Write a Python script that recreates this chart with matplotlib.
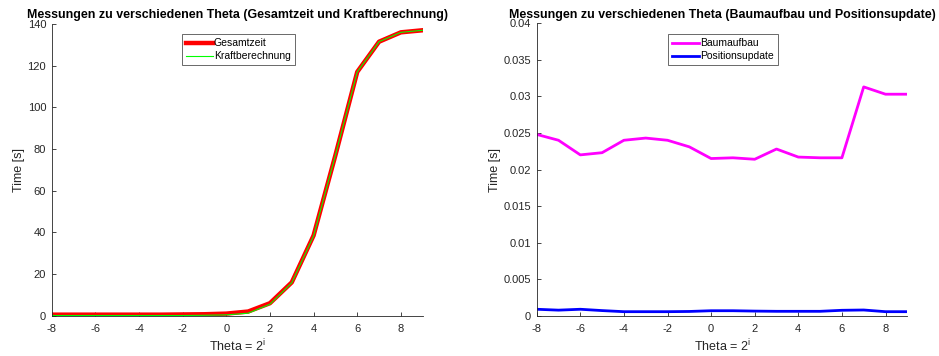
import matplotlib
matplotlib.use("Agg")
import matplotlib.pyplot as plt
import numpy as np

plt.rcParams['font.family'] = ['Liberation Sans', 'DejaVu Sans']
plt.rcParams['axes.unicode_minus'] = False

# Daten
theta_i = np.arange(-8, 10)
gesamtzeit = [0.5, 0.5, 0.5, 0.5, 0.5, 0.5, 0.6, 0.7, 1.0, 2.0, 6.0, 16.0, 38.5, 77.0, 117.0, 131.5, 136.0, 137.0]
kraftberechnung = [0.1, 0.1, 0.1, 0.1, 0.1, 0.1, 0.1, 0.2, 0.4, 1.2, 5.5, 15.8, 38.3, 77.0, 117.0, 131.5, 136.0, 137.0]
baumaufbau = [0.0248, 0.0240, 0.0220, 0.0223, 0.0240, 0.0243, 0.0240, 0.0231, 0.0215,
              0.0216, 0.0214, 0.0228, 0.0217, 0.0216, 0.0216, 0.0313, 0.0303, 0.0303]
positionsupdate = [0.00088, 0.00076, 0.00088, 0.00070, 0.00055, 0.00055, 0.00055, 0.00058, 0.00068,
                   0.00068, 0.00063, 0.00060, 0.00060, 0.00060, 0.00074, 0.00078, 0.00055, 0.00055]

ax_col = (0.15, 0.15, 0.15)

fig = plt.figure(figsize=(9.39, 3.56), dpi=100)
ax1 = fig.add_axes([51.7/939, 1-315.7/356, 371/939, 291.7/356])
ax2 = fig.add_axes([536.7/939, 1-315.7/356, 370.6/939, 292.4/356])

ax1.plot(theta_i, gesamtzeit, color=(1, 0, 0), lw=3.2, label="Gesamtzeit")
ax1.plot(theta_i, kraftberechnung, color=(0, 1, 0), lw=0.8, label="Kraftberechnung")
ax1.set_xlim(-8, 9)
ax1.set_ylim(0, 140)
ax1.set_yticks(np.arange(0, 141, 20))
ax1.set_title("Messungen zu verschiedenen Theta (Gesamtzeit und Kraftberechnung)",
              fontsize=8.9, fontweight='bold', pad=4)

ax2.plot(theta_i, baumaufbau, color=(1, 0, 1), lw=2, label="Baumaufbau")
ax2.plot(theta_i, positionsupdate, color=(0, 0, 1), lw=2, label="Positionsupdate")
ax2.set_xlim(-8, 9)
ax2.set_ylim(0, 0.04)
ax2.set_yticks(np.arange(0, 0.0401, 0.005))
ax2.set_yticklabels(["0", "0.005", "0.01", "0.015", "0.02", "0.025", "0.03", "0.035", "0.04"])
ax2.set_title("Messungen zu verschiedenen Theta (Baumaufbau und Positionsupdate)",
              fontsize=8.9, fontweight='bold', pad=4)

for ax in (ax1, ax2):
    ax.set_xticks(np.arange(-8, 9, 2))
    ax.set_xlabel("Theta = 2$^{\\mathregular{i}}$", fontsize=9, color=ax_col, labelpad=3)
    ax.set_ylabel("Time [s]", fontsize=9, color=ax_col, labelpad=2)
    ax.spines['top'].set_visible(False)
    ax.spines['right'].set_visible(False)
    for s in ('left', 'bottom'):
        ax.spines[s].set_color(ax_col)
        ax.spines[s].set_linewidth(0.6)
    ax.tick_params(direction='in', length=3, width=0.6, colors=ax_col, labelsize=8, pad=4)
    ax.tick_params(axis='x', pad=6)

leg1 = ax1.legend(loc='upper left', bbox_to_anchor=((181.7-51.7)/371, 1-(34-24)/291.7),
                  fontsize=7.5, frameon=True, fancybox=False, borderpad=0.4, labelspacing=0.3,
                  handlelength=2.6, handletextpad=0.1, borderaxespad=0)
leg2 = ax2.legend(loc='upper left', bbox_to_anchor=((667.7-536.7)/370.6, 1-(34-23.3)/292.4),
                  fontsize=7.5, frameon=True, fancybox=False, borderpad=0.4, labelspacing=0.3,
                  handlelength=2.6, handletextpad=0.1, borderaxespad=0)
for leg in (leg1, leg2):
    leg.get_frame().set_edgecolor(ax_col)
    leg.get_frame().set_linewidth(0.6)

fig.savefig("out.png", dpi=100)
